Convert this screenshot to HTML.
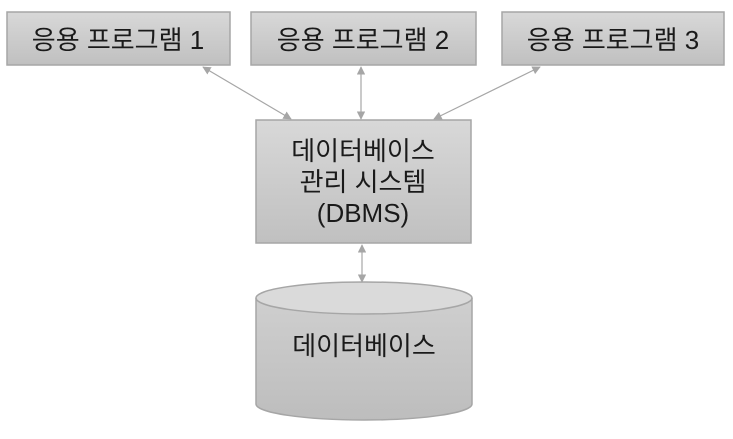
<!DOCTYPE html>
<html><head><meta charset="utf-8"><style>
html,body{margin:0;padding:0;background:#fff;}
body{width:733px;height:434px;overflow:hidden;}
</style></head><body>
<svg width="733" height="434" xmlns="http://www.w3.org/2000/svg" font-family="'Liberation Sans','Noto Sans CJK KR',sans-serif">
<defs>
<linearGradient id="g" x1="0" y1="0" x2="0" y2="1"><stop offset="0" stop-color="#d8d8d8"/><stop offset="1" stop-color="#c0c0c0"/></linearGradient>
<linearGradient id="g2" x1="0" y1="0" x2="0" y2="1"><stop offset="0" stop-color="#cfcfcf"/><stop offset="1" stop-color="#bdbdbd"/></linearGradient>
<marker id="a" viewBox="0 0 10 10" refX="9" refY="5" markerWidth="7" markerHeight="7" orient="auto-start-reverse"><path d="M0,0 L10,5 L0,10z" fill="#a6a6a6"/></marker>
</defs>
<g stroke="#a6a6a6" stroke-width="1.5" fill="#c6c6c6">
<rect x="7" y="12" width="223" height="53" fill="url(#g)"/>
<rect x="251" y="12" width="225" height="53" fill="url(#g)"/>
<rect x="502" y="12" width="222" height="53" fill="url(#g)"/>
<rect x="256" y="120" width="215" height="123" fill="url(#g)"/>
<path d="M256,298 L256,404 A108,16 0 0 0 472,404 L472,298" fill="url(#g2)"/>
<ellipse cx="364" cy="298" rx="108" ry="16" fill="#dadada"/>
</g>
<g stroke="#a6a6a6" stroke-width="1.2" marker-start="url(#a)" marker-end="url(#a)">
<line x1="203" y1="67" x2="291" y2="119"/>
<line x1="361" y1="67" x2="361" y2="119"/>
<line x1="540" y1="67" x2="434" y2="119"/>
<line x1="362" y1="245" x2="362" y2="282"/>
</g>
<g font-size="26" fill="#1a1a1a" text-anchor="middle">
<text x="118" y="49">응용 프로그램 1</text>
<text x="363" y="49">응용 프로그램 2</text>
<text x="613" y="49">응용 프로그램 3</text>
<text x="363" y="160">데이터베이스</text>
<text x="363" y="191">관리 시스템</text>
<text x="363" y="222">(DBMS)</text>
<text x="364" y="355">데이터베이스</text>
</g>
</svg>
</body></html>
